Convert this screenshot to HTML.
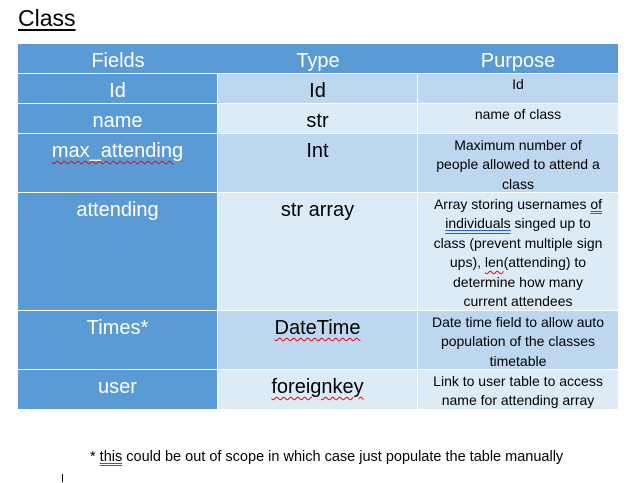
<!DOCTYPE html>
<html><head><meta charset="utf-8"><style>
body{margin:0;width:637px;height:483px;background:#fff;position:relative;overflow:hidden;font-family:"Liberation Sans",sans-serif}
.c{position:absolute;box-sizing:border-box;text-align:center;overflow:hidden;white-space:nowrap}
.h{background:#5b9bd5;color:#fff;font-size:20px;line-height:31px;padding-top:2px}
.f{background:#5b9bd5;color:#fff;font-size:20px;line-height:31px;padding-top:2px}
.t{color:#000;font-size:20px;line-height:31px;padding-top:2px}
.p{color:#000;font-size:14px;line-height:19.4px;padding-top:2px}
.a{background:#bdd7ee}.b{background:#ddebf7}
.sq{text-decoration:underline wavy #e00;text-decoration-thickness:1px;text-underline-offset:3px}
.du{text-decoration:underline double #2a5fd0;text-underline-offset:2px}
</style></head><body>
<div style="position:absolute;left:18px;top:5px;font-size:23px;text-decoration:underline;text-underline-offset:3px">Class</div>
<div>
<div class="c h" style="left:18px;top:44px;width:200px;height:29px">Fields</div>
<div class="c h" style="left:218px;top:44px;width:200px;height:29px">Type</div>
<div class="c h" style="left:418px;top:44px;width:200px;height:29px">Purpose</div>

<div class="c f" style="left:18px;top:74px;width:199px;height:29px">Id</div>
<div class="c t a" style="left:218px;top:74px;width:199px;height:29px">Id</div>
<div class="c p a" style="left:418px;top:74px;width:200px;height:29px;padding-top:1px">Id</div>

<div class="c f" style="left:18px;top:104px;width:199px;height:29px">name</div>
<div class="c t b" style="left:218px;top:104px;width:199px;height:29px">str</div>
<div class="c p b" style="left:418px;top:104px;width:200px;height:29px;padding-top:1px">name of class</div>

<div class="c f" style="left:18px;top:134px;width:199px;height:58px"><span class="sq">max_attending</span></div>
<div class="c t a" style="left:218px;top:134px;width:199px;height:58px">Int</div>
<div class="c p a" style="left:418px;top:134px;width:200px;height:58px">Maximum number of<br>people allowed to attend a<br>class</div>

<div class="c f" style="left:18px;top:193px;width:199px;height:117px">attending</div>
<div class="c t b" style="left:218px;top:193px;width:199px;height:117px">str array</div>
<div class="c p b" style="left:418px;top:193px;width:200px;height:117px">Array storing usernames <span class="du">of</span><br><span class="du">individuals</span> singed up to<br>class (prevent multiple sign<br>ups), <span class="sq">len</span>(attending) to<br>determine how many<br>current attendees</div>

<div class="c f" style="left:18px;top:311px;width:199px;height:58px">Times*</div>
<div class="c t a" style="left:218px;top:311px;width:199px;height:58px"><span class="sq">DateTime</span></div>
<div class="c p a" style="left:418px;top:311px;width:200px;height:58px">Date time field to allow auto<br>population of the classes<br>timetable</div>

<div class="c f" style="left:18px;top:370px;width:199px;height:39px">user</div>
<div class="c t b" style="left:218px;top:370px;width:199px;height:39px"><span class="sq">foreignkey</span></div>
<div class="c p b" style="left:418px;top:370px;width:200px;height:39px">Link to user table to access<br>name for attending array</div>
</div>
<div style="position:absolute;left:90px;top:449px;font-size:14.5px;white-space:nowrap">* <span class="du">this</span> could be out of scope in which case just populate the table manually</div>
<div style="position:absolute;left:62px;top:474px;width:1px;height:8px;background:#000"></div>
</body></html>
